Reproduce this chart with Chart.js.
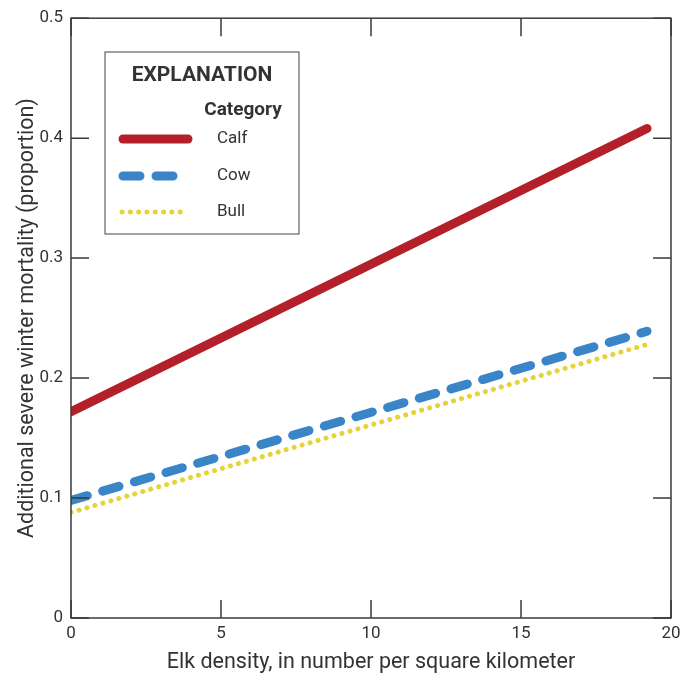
<!DOCTYPE html>
<html>
<head>
<meta charset="utf-8">
<script src="https://cdn.jsdelivr.net/npm/chart.js@4"></script>
<style>
  html, body { margin: 0; padding: 0; background: #fff; }
  #wrap { width: 689px; height: 677px; }
</style>
</head>
<body>
<div id="wrap"><canvas id="mortalityChart" width="689" height="677"></canvas></div>
<script>
// values
const density = [0, 19.2];
const calf = [0.172, 0.408];
const cow = [0.098, 0.239];
const bull = [0.088, 0.228];
const categories = ['Calf', 'Cow', 'Bull'];
const xTicks = [0, 5, 10, 15, 20];
const yTicks = [0, 0.1, 0.2, 0.3, 0.4, 0.5];

const FONT = '"Roboto", "Liberation Sans", sans-serif';
const INK = '#333333';

function toPoints(ys) {
    return density.map((x, i) => ({ x: x, y: ys[i] }));
}

// frame, inward ticks and the explanation box
const framePlugin = {
    id: 'frame',
    afterDraw(chart) {
        const { ctx, chartArea: a, scales } = chart;
        const len = 18;
        ctx.save();
        ctx.strokeStyle = '#3a3a3a';
        ctx.lineWidth = 1.5;
        ctx.strokeRect(a.left, a.top, a.right - a.left, a.bottom - a.top);
        ctx.beginPath();
        xTicks.forEach(v => {
            const px = scales.x.getPixelForValue(v);
            ctx.moveTo(px, a.bottom); ctx.lineTo(px, a.bottom - len);
            ctx.moveTo(px, a.top); ctx.lineTo(px, a.top + len);
        });
        yTicks.forEach(v => {
            const py = scales.y.getPixelForValue(v);
            ctx.moveTo(a.left, py); ctx.lineTo(a.left + len, py);
            ctx.moveTo(a.right, py); ctx.lineTo(a.right - len, py);
        });
        ctx.stroke();

        // legend box
        const bx = 105, by = 52, bw = 194, bh = 182;
        ctx.fillStyle = '#fff';
        ctx.fillRect(bx, by, bw, bh);
        ctx.lineWidth = 1;
        ctx.strokeStyle = '#444';
        ctx.strokeRect(bx, by, bw, bh);

        ctx.fillStyle = INK;
        ctx.textAlign = 'center';
        ctx.textBaseline = 'middle';
        ctx.font = 'bold 21px ' + FONT;
        ctx.fillText('EXPLANATION', 202, 76);
        ctx.font = 'bold 19px ' + FONT;
        ctx.fillText('Category', 243, 110);

        const rows = [139, 176, 212];
        chart.data.datasets.forEach((ds, i) => {
            ctx.save();
            ctx.strokeStyle = ds.borderColor;
            ctx.lineWidth = ds.borderWidth;
            ctx.lineCap = 'round';
            ctx.setLineDash(ds.legendDash || []);
            ctx.beginPath();
            ctx.moveTo(ds.legendStart || 123, rows[i]);
            ctx.lineTo(188, rows[i]);
            ctx.stroke();
            ctx.restore();
            ctx.fillStyle = INK;
            ctx.textAlign = 'left';
            ctx.font = '17px ' + FONT;
            ctx.fillText(ds.label, 217, rows[i]);
        });
        ctx.restore();
    }
};

new Chart(document.getElementById('mortalityChart'), {
    type: 'line',
    data: {
        datasets: [
            {
                label: categories[0],
                data: toPoints(calf),
                borderColor: '#b3202a',
                borderWidth: 9,
                borderCapStyle: 'round'
            },
            {
                label: categories[1],
                data: toPoints(cow),
                borderColor: '#3a85c8',
                borderWidth: 9,
                borderCapStyle: 'round',
                borderDash: [17, 16],
                legendDash: [17, 16]
            },
            {
                label: categories[2],
                data: toPoints(bull),
                borderColor: '#e4d43a',
                borderWidth: 5,
                borderCapStyle: 'round',
                borderDash: [0.1, 8.2],
                legendDash: [0.1, 8.2],
                legendStart: 122
            }
        ]
    },
    options: {
        responsive: false,
        animation: false,
        layout: { padding: { left: 0, right: 18, top: 18, bottom: 0 } },
        elements: { point: { radius: 0 }, line: { tension: 0 } },
        plugins: { legend: { display: false }, tooltip: { enabled: false } },
        scales: {
            x: {
                type: 'linear',
                min: 0,
                max: 20,
                afterFit: s => { s.height = 59; },
                afterBuildTicks: s => { s.ticks = xTicks.map(v => ({ value: v })); },
                grid: { display: false, drawTicks: false },
                border: { display: false },
                ticks: { color: INK, padding: 6, font: { family: FONT, size: 17 } },
                title: {
                    display: true,
                    text: 'Elk density, in number per square kilometer',
                    color: INK,
                    padding: { top: 0, bottom: 1 },
                    font: { family: FONT, size: 21.5 }
                }
            },
            y: {
                min: 0,
                max: 0.5,
                afterFit: s => { s.width = 71; },
                afterBuildTicks: s => { s.ticks = yTicks.map(v => ({ value: v })); },
                grid: { display: false, drawTicks: false },
                border: { display: false },
                ticks: {
                    color: INK,
                    padding: 8,
                    font: { family: FONT, size: 17 },
                    callback: v => v === 0 ? '0' : v.toFixed(1)
                },
                title: {
                    display: true,
                    text: 'Additional severe winter mortality (proportion)',
                    color: INK,
                    padding: { top: 15, bottom: 0 },
                    font: { family: FONT, size: 21.5 }
                }
            }
        }
    },
    plugins: [framePlugin]
});
</script>
</body>
</html>
